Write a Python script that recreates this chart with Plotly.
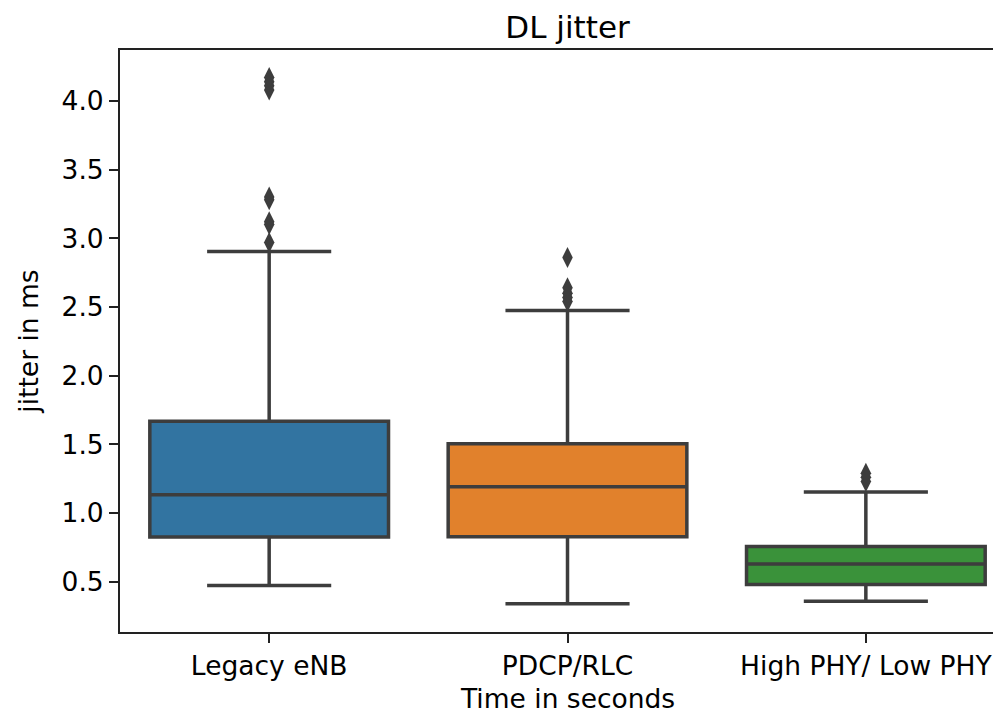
import plotly.graph_objects as go

categories = ["Legacy eNB", "PDCP/RLC", "High PHY/ Low PHY"]
q1 = [0.826, 0.828, 0.479]
median = [1.134, 1.192, 0.629]
q3 = [1.668, 1.505, 0.757]
lower_whisker = [0.473, 0.340, 0.357]
upper_whisker = [2.904, 2.474, 1.154]
outliers = [
    [2.97, 3.10, 3.12, 3.28, 3.30, 4.08, 4.11, 4.14, 4.17],
    [2.54, 2.57, 2.60, 2.64, 2.86],
    [1.23, 1.26, 1.29],
]
colors = ["#3274a1", "#e1812c", "#3a923a"]
line_col = "#3d3d3d"

fig = go.Figure()
for i, cat in enumerate(categories):
    fig.add_trace(go.Box(
        x=[i], q1=[q1[i]], median=[median[i]], q3=[q3[i]],
        lowerfence=[lower_whisker[i]], upperfence=[upper_whisker[i]],
        width=0.8, whiskerwidth=0.52,
        fillcolor=colors[i], line=dict(color=line_col, width=3.5),
        boxpoints=False, showlegend=False, name=cat,
    ))
    fig.add_trace(go.Scatter(
        x=[i] * len(outliers[i]), y=outliers[i], mode="markers",
        marker=dict(symbol="diamond-tall", size=15, color=line_col,
                    line=dict(color=line_col, width=0)),
        showlegend=False,
    ))

W, H = 993, 706
font_family = "DejaVu Sans"
fs = 26.5
# the visible axes are cropped on the right; the full axes would end 14 px beyond the image
center_x = 0.508
fig.update_layout(
    width=W, height=H,
    margin=dict(l=112, r=0, t=42, b=82, autoexpand=False),
    paper_bgcolor="white", plot_bgcolor="white",
    font=dict(family=font_family, size=fs, color="#000000"),
    title=dict(text="DL jitter", x=center_x, xref="paper", xanchor="center",
               y=1 - 19 / H, yref="container", yanchor="middle",
               font=dict(size=31, family=font_family, color="#000000")),
    boxmode="overlay",
    annotations=[dict(text="Time in seconds", x=center_x, xref="paper",
                      y=-0.115, yref="paper", xanchor="center", yanchor="middle",
                      showarrow=False, font=dict(size=fs, family=font_family, color="#000000"))],
)
fig.update_xaxes(
    range=[-0.5, 2.453], tickmode="array", tickvals=[0, 1, 2], ticktext=categories,
    showgrid=False, zeroline=False, automargin=False,
    showline=True, linecolor="#222222", linewidth=2, mirror=True,
    ticks="outside", ticklen=9, tickwidth=2, tickcolor="#222222",
    tickfont=dict(size=fs),
)
fig.update_yaxes(
    range=[0.134, 4.371], tickmode="array",
    tickvals=[0.5, 1.0, 1.5, 2.0, 2.5, 3.0, 3.5, 4.0],
    ticktext=["0.5", "1.0", "1.5", "2.0", "2.5", "3.0", "3.5", "4.0"],
    showgrid=False, zeroline=False, automargin=False,
    showline=True, linecolor="#222222", linewidth=2, mirror=False,
    ticks="outside", ticklen=9, tickwidth=2, tickcolor="#222222",
    tickfont=dict(size=fs), ticklabelstandoff=0,
    title=dict(text="jitter in ms", font=dict(size=fs), standoff=15),
)
fig.write_html("out.html")
